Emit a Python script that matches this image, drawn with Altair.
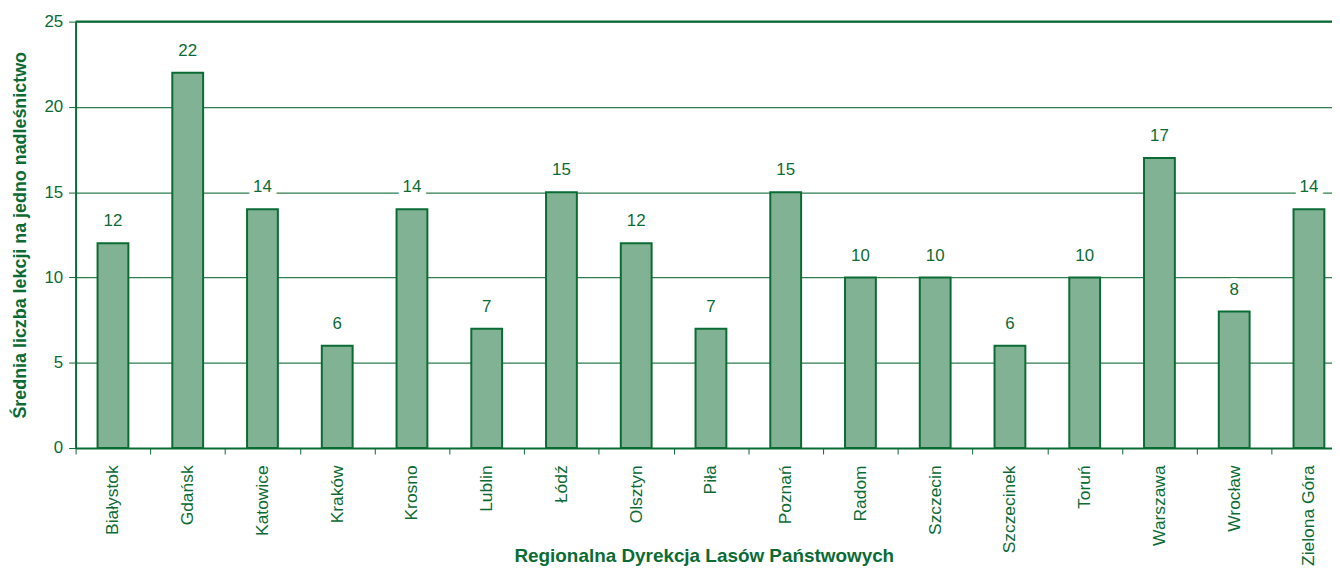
import json
import altair as alt
import pandas as pd

categories = ["Białystok", "Gdańsk", "Katowice", "Kraków", "Krosno", "Lublin", "Łódź",
              "Olsztyn", "Piła", "Poznań", "Radom", "Szczecin", "Szczecinek", "Toruń",
              "Warszawa", "Wrocław", "Zielona Góra"]
values = [12, 22, 14, 6, 14, 7, 15, 12, 7, 15, 10, 10, 6, 10, 17, 8, 14]

df = pd.DataFrame({"rdlp": categories, "v": values, "idx": list(range(len(categories)))})

GREEN = "#0b6b34"
FILL = "#82b294"
FONT = "Liberation Sans"

PLOT_W = 1264
STEP = 75.2
x_max = -0.5 + PLOT_W / STEP
boundaries = [i - 0.5 for i in range(len(categories))]
names_js = json.dumps(categories, ensure_ascii=False)

x = alt.X("idx:Q",
          scale=alt.Scale(domain=[-0.5, x_max], nice=False, zero=False, padding=0),
          axis=alt.Axis(title="Regionalna Dyrekcja Lasów Państwowych",
                        values=boundaries,
                        labelExpr=f"{names_js}[round(datum.value + 0.5)]",
                        labelOffset=STEP / 2, labelFlush=False, labelOverlap=False,
                        labelAngle=-90, labelAlign="right", labelBaseline="middle",
                        labelFont=FONT, labelFontSize=17.5, labelColor=GREEN,
                        labelPadding=11, tickColor=GREEN,
                        tickSize=6, tickWidth=1, domainColor=GREEN, domainWidth=2,
                        titleFont=FONT, titleFontSize=19, titleFontWeight="bold",
                        titleColor=GREEN, titleX=632, titleY=114,
                        titleBaseline="alphabetic", grid=False))
y = alt.Y("v:Q", scale=alt.Scale(domain=[0, 25]),
          axis=alt.Axis(title="Średnia liczba lekcji na jedno nadleśnictwo",
                        values=[0, 5, 10, 15, 20, 25], labelFont=FONT,
                        labelFontSize=17, labelColor=GREEN, labelPadding=6,
                        tickColor=GREEN, tickSize=7, tickWidth=1,
                        domainColor=GREEN, domainWidth=2, gridColor="#2e7d4f",
                        gridWidth=1.2,
                        titleFont=FONT, titleFontSize=18, titleFontWeight="bold",
                        titleColor=GREEN, titlePadding=14))

bars = alt.Chart(df).mark_bar(orient="vertical", size=31, fill=FILL, stroke=GREEN,
                              strokeWidth=2).encode(x=x, y=y)
halo = alt.Chart(df).mark_text(baseline="bottom", dy=-13, font=FONT, fontSize=17,
                               color="white", stroke="white", strokeWidth=10).encode(
    x=x, y=y, text="v:Q")
labels = alt.Chart(df).mark_text(baseline="bottom", dy=-13, font=FONT, fontSize=17,
                                 color=GREEN).encode(x=x, y=y, text="v:Q")
top = alt.Chart(pd.DataFrame({"t": [25]})).mark_rule(color=GREEN, strokeWidth=2).encode(
    y=alt.Y("t:Q", scale=alt.Scale(domain=[0, 25])))

chart = alt.layer(bars, halo, labels, top).properties(
    width=PLOT_W, height=429,
    autosize=alt.AutoSizeParams(type="none"),
    padding={"left": 68, "top": 12, "right": 0, "bottom": 118},
).configure_view(stroke=None).configure(background="white")

chart.save("out.html", embed_options={"renderer": "svg", "actions": False})
